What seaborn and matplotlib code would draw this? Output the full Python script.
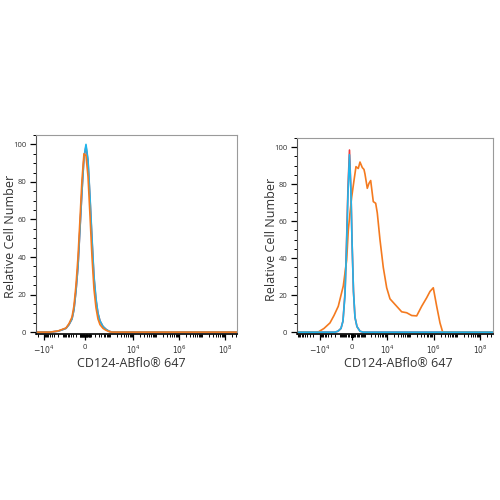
import numpy as np
import matplotlib
matplotlib.use('Agg')
import matplotlib.pyplot as plt
import matplotlib.ticker as mticker
import seaborn as sns

# left panel: isotype / unstained / stained, all on top of each other
left_red_x = [-25600, -4930, -1920, -1196, -741, -515, -352, -271, -203, -147, -100, -58, -19, 16, 49, 84, 122, 164, 214, 272, 341, 472, 645, 877, 1189, 3.25e8]
left_red_y = [0, 0, 0.5, 1.2, 2, 4, 7, 12, 22, 35, 55, 75, 93, 99, 91, 71, 49, 29, 17, 10, 6, 3, 1.5, 0.5, 0, 0]
left_blue_x = [-25600, -4930, -1920, -1196, -741, -515, -352, -271, -203, -147, -100, -58, -19, 16, 49, 84, 122, 164, 214, 272, 341, 472, 645, 877, 1189, 3.25e8]
left_blue_y = [0, 0, 0.5, 1.2, 2, 4, 7, 12, 22, 35, 55, 75, 93, 100, 92, 72, 50, 30, 18, 10, 6, 3, 1.5, 0.5, 0, 0]
left_orange_x = [-25600, -4930, -1920, -1196, -741, -515, -352, -271, -203, -147, -100, -58, -19, 16, 49, 84, 122, 164, 214, 272, 341, 472, 645, 877, 1189, 3.25e8]
left_orange_y = [0, 0, 0.6, 1.4, 2.2, 4.5, 8, 14, 25, 40, 60, 81, 95, 94, 83, 62, 40, 23, 13, 7, 4, 2, 1, 0.3, 0, 0]

# right panel: controls stay narrow, stained sample is broad
right_red_x = [-116000, -1910, -1352, -934, -711, -521, -396, -280, -172, -68, 0, 94, 190, 325, 553, 830, 3.56e8]
right_red_y = [0, 0, 0.5, 2, 6, 21, 47, 78, 98.5, 76, 50, 22, 8, 3, 0.5, 0, 0]
right_blue_x = [-116000, -1910, -1352, -934, -711, -521, -396, -280, -172, -68, 0, 94, 190, 325, 553, 830, 3.56e8]
right_blue_y = [0, 0, 0.5, 2, 6, 20, 45, 75, 96, 75, 50, 22, 8, 3, 0.5, 0, 0]
right_orange_x = [-116000, -12180, -6380, -3330, -2140, -1304, -680, -380, -258, -137, -20, 126, 256, 419, 553,
                  760, 938, 1055, 1364, 1637, 1956, 2307, 2555, 3255, 3824, 5005, 6952, 9739, 13500, 26170,
                  42900, 70300, 115300, 189000, 309700, 507000, 703000, 974600, 1364000, 1890000, 2470000, 3.56e8]
right_orange_y = [0, 0, 2, 5, 9, 14, 25, 39, 55, 64.5, 73, 82, 89.5, 88.5, 92,
                  89, 88, 85.5, 77.8, 80.5, 82, 75, 70.6, 69.7, 64.5, 50, 35, 24, 18, 14,
                  11, 10.5, 9, 8.8, 14, 18.6, 22, 24, 14, 5, 0, 0]

x_tick_vals = [-1e4, 0, 1e4, 1e6, 1e8]
x_tick_labels = [r'$-10^{4}$', '0', r'$10^{4}$', r'$10^{6}$', r'$10^{8}$']
y_tick_vals = [0, 20, 40, 60, 80, 100]

c_red = '#ee3b3b'
c_blue = '#1fb5ec'
c_orange = '#f47a1f'

sns.set_style('white')
plt.rcParams['font.family'] = ['Open Sans', 'DejaVu Sans']
plt.rcParams['mathtext.fontset'] = 'dejavusans'


def biex(w, k):
    # arcsinh style axis, negative side squeezed a bit
    def fwd(x):
        x = np.asarray(x, float)
        v = np.arcsinh(x / w) / np.log(10)
        return np.where(x < 0, v * k, v)

    def inv(v):
        v = np.asarray(v, float)
        return w * np.sinh(np.where(v < 0, v / k, v) * np.log(10))
    return fwd, inv


def minor_ticks():
    t = []
    for e in range(1, 9):
        for m in range(1, 10):
            t.append(m * 10 ** e)
    t = [v for v in t if v not in x_tick_vals]
    neg = [-v for v in t if v <= 1e5 and -v not in x_tick_vals]
    return neg + t


fig = plt.figure(figsize=(5, 5), dpi=100)
ax1 = fig.add_axes([0.072, 0.332, 0.402, 0.398])
ax2 = fig.add_axes([0.594, 0.332, 0.392, 0.392])

sns.lineplot(x=left_red_x, y=left_red_y, ax=ax1, color=c_red, lw=1.2, sort=False, estimator=None)
sns.lineplot(x=left_blue_x, y=left_blue_y, ax=ax1, color=c_blue, lw=1.2, sort=False, estimator=None)
sns.lineplot(x=left_orange_x, y=left_orange_y, ax=ax1, color=c_orange, lw=1.2, sort=False, estimator=None)

sns.lineplot(x=right_red_x, y=right_red_y, ax=ax2, color=c_red, lw=1.2, sort=False, estimator=None)
sns.lineplot(x=right_orange_x, y=right_orange_y, ax=ax2, color=c_orange, lw=1.2, sort=False, estimator=None)
sns.lineplot(x=right_blue_x, y=right_blue_y, ax=ax2, color=c_blue, lw=1.2, sort=False, estimator=None)

panels = [
    (ax1, 160, 0.85, (-25600, 3.25e8), (0.475, -0.115), (-0.095, 0.49)),
    (ax2, 632, 0.92, (-116000, 3.56e8), (0.516, -0.117), (-0.097, 0.485)),
]
for ax, w, k, xl, xlab_pos, ylab_pos in panels:
    ax.set_xscale('function', functions=biex(w, k))
    ax.set_xlim(*xl)
    ax.set_ylim(-1, 105)
    ax.xaxis.set_major_locator(mticker.FixedLocator(x_tick_vals))
    ax.xaxis.set_major_formatter(mticker.FixedFormatter(x_tick_labels))
    ax.xaxis.set_minor_locator(mticker.FixedLocator(minor_ticks()))
    ax.yaxis.set_major_locator(mticker.FixedLocator(y_tick_vals))
    ax.yaxis.set_minor_locator(mticker.MultipleLocator(5))
    ax.tick_params(which='major', direction='out', length=4, width=0.9, color='black',
                   labelsize=5.5, labelcolor='#333333', pad=3, bottom=True, left=True)
    ax.tick_params(which='minor', direction='out', length=2.2, width=0.7, color='black',
                   bottom=True, left=True)
    for s in ['top', 'right']:
        ax.spines[s].set_color('#9a9a9a')
        ax.spines[s].set_linewidth(0.8)
    ax.spines['left'].set_color('#555555')
    ax.spines['left'].set_linewidth(0.8)
    ax.spines['bottom'].set_color('black')
    ax.spines['bottom'].set_linewidth(1.2)
    ax.set_xlabel('CD124-ABflo® 647', fontsize=9, color='#333333')
    ax.set_ylabel('Relative Cell Number', fontsize=9, color='#333333')
    ax.xaxis.set_label_coords(*xlab_pos)
    ax.yaxis.set_label_coords(*ylab_pos)

plt.savefig('out.png', dpi=100)
